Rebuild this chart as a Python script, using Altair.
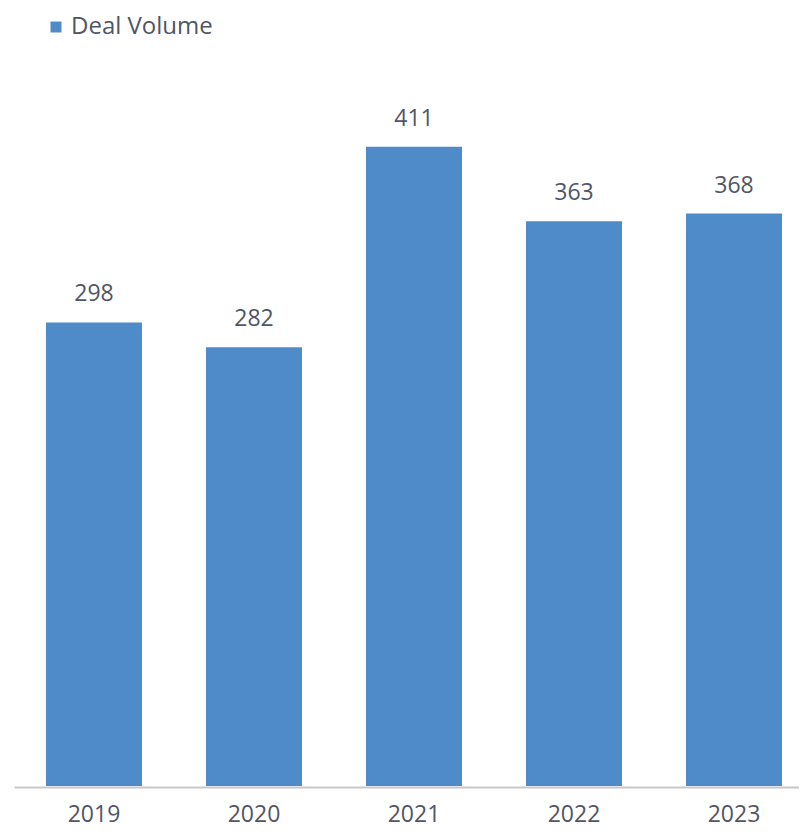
import altair as alt
import pandas as pd

years = ["2019", "2020", "2021", "2022", "2023"]
deal_volume = [298, 282, 411, 363, 368]
series_name = "Deal Volume"

df = pd.DataFrame({"Year": years, "Value": deal_volume, "Series": [series_name] * len(years)})

TEXT = "#505666"
BAR = "#4F8BC9"
FONT = "Open Sans"

base = alt.Chart(df)

x = alt.X(
    "Year:N",
    sort=years,
    scale=alt.Scale(paddingInner=0.4, paddingOuter=0.153, align=0.653),
    axis=alt.Axis(
        title=None, labelAngle=0, ticks=False, domain=True,
        domainColor="#C8C8CC", domainWidth=2, offset=1,
        labelFont=FONT, labelFontSize=23, labelColor=TEXT, labelPadding=16,
    ),
)
y = alt.Y("Value:Q", scale=alt.Scale(domain=[0, 450], nice=False), axis=None)

bars = base.mark_bar(color=BAR).encode(
    x=x, y=y,
    color=alt.Color(
        "Series:N",
        scale=alt.Scale(range=[BAR]),
        legend=alt.Legend(
            title=None, orient="none", legendX=30, legendY=-71,
            symbolType="square", symbolSize=121, symbolStrokeWidth=0,
            labelFont=FONT, labelFontSize=24, labelColor=TEXT, padding=0,
            labelOffset=3,
        ),
    ),
)

labels = base.mark_text(font=FONT, fontSize=23, color=TEXT, baseline="alphabetic", dy=-21).encode(
    x=alt.X("Year:N", sort=years), y="Value:Q", text="Value:Q"
)

chart = (
    alt.layer(bars, labels)
    .properties(
        width=785, height=700,
        autosize=alt.AutoSizeParams(type="none"),
        padding={"left": 6, "top": 78, "right": 0, "bottom": 41},
        background="white",
    )
    .configure_view(stroke=None)
)

chart.save("out.html", embed_options={"renderer": "svg", "actions": False})
